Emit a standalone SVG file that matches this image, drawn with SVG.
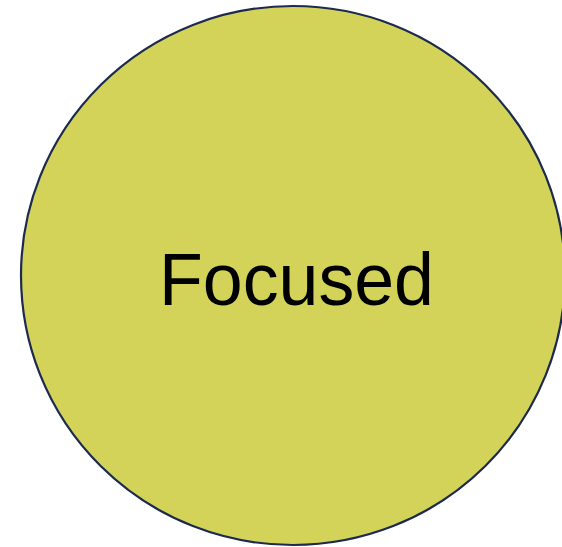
<svg xmlns="http://www.w3.org/2000/svg" width="562" height="547" viewBox="0 0 562 547">
<style>
.node{fill:#D3D35A;stroke:#1B2A4E;stroke-width:2.2}
.lbl{font-family:"Liberation Sans","Open Sans",sans-serif;font-size:75px;fill:#000}
</style>
<rect width="562" height="547" fill="#fff"/>
<g id="connectors"/>
<g id="focused">
<ellipse class="node" cx="293" cy="275.5" rx="272" ry="269.5"/>
<text class="lbl" x="159" y="305" textLength="275" lengthAdjust="spacingAndGlyphs">Focused</text>
</g>
</svg>
